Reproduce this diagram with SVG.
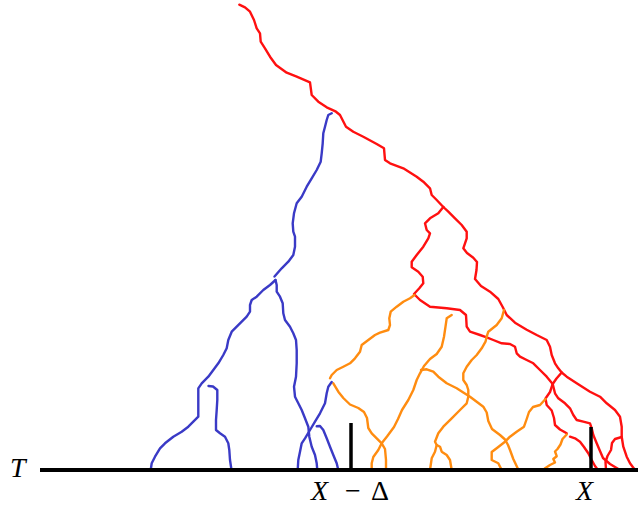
<svg xmlns="http://www.w3.org/2000/svg" width="638" height="508" viewBox="0 0 638 508">
<style>
.l{fill:none;stroke-width:2.4;stroke-linejoin:round;stroke-linecap:round}
.r{stroke:#ff1010}
.b{stroke:#3a3ac6}
.o{stroke:#ff8c10}
.k{stroke:#000;fill:none}
.t{font-family:"Liberation Serif",serif;font-size:28px;fill:#000}
.i{font-style:italic}
</style>
<rect width="638" height="508" fill="#fff"/>
<g id="red-lineages">
<polyline class="l r" points="239.3,4.7 245,7.3 250,11.7 254,20 256.7,28.3 260,33.3 260.7,41.7 265,48.3 270,56.7 276,65 286.7,72.7 296.7,76.7 310,82.3 311.7,95 318.3,101.7 326.7,107.3 336,111.7 340,115 346,126.7 353.3,131.7 363.3,136.7 376.7,144 384,148.3 385,160 390,163.3 403.3,168.3 416.7,176.7 423.3,181.7 430,188.3 431.7,195 436.7,200 443.3,207"/>
<polyline class="l r" points="443.3,207 448.3,211.7 455,218.3 461.7,225 466.7,231.7 466.7,238.3 463.3,248.3 467,253 473.3,257.7 477,262 476.5,270 475,279 481,286 490,291.7 498.3,299 502.7,307 506.7,315 515,322.7 526.7,329.7 536.7,335 546.7,340 550,346.7 551.7,355 555,363.3 558.3,368.3 561.7,372.5 566.7,376.7 576.7,383.3 590,391.7 600,396.7 606.7,403.3 615,410 620,416.7 621.7,426.7 621.7,436.7 623.3,446.7 626.7,456.7 630,463.3 635,470"/>
<polyline class="l r" points="443.3,207 438.3,213.3 430,218.3 425,223.3 426.7,230 430,233.3 428.3,238.3 423.3,246.7 416.7,255 411.7,261.7 411.7,267.3 418.3,271.7 422.7,276.7 423.3,283.3 419.3,288.3 414,294 420,300 430,306.7 446.7,308.3 460,310 466,315 466.7,326.7 470,331.7 480,335 486.7,337.3 493.3,340 501.7,343.3 510,344 515,346.7 516.7,353.3 520,356.7 526.7,360 533.3,363.3 540,370 546.7,376.7 552.7,384"/>
<polyline class="l r" points="561.7,372.5 556.5,378.5 552.7,384"/>
<polyline class="l r" points="552.7,384 550,392 545.5,398.5 546.7,405 551.7,410.5 554,418 555,425 560,429.5 566.7,433.3"/>
<polyline class="l r" points="570,436.7 575,438.3 580,441.7 584,447 588.3,453.3 591.7,460 595,466 598.3,470.5"/>
<polyline class="l r" points="552.7,384 555,393.3 558.3,398.3 565,403.3 570,408.3 573.3,415 576.7,420 583.3,421.7 590,423.3 591.7,428.3 593.3,435 596.7,443.3 600,451 603,458 610,464 620,470"/>
<polyline class="l r" points="621.7,437 615,439 612,443 611,450 607.5,456 605.5,462 606,470"/>
</g>
<g id="orange-lineages">
<polyline class="l o" points="414.5,295 410,298.3 403.3,301.7 396.7,306.7 390.7,311.7 389.3,318.3 390,325 388.3,330 380,332.7 375,335 368.3,340 361.7,345 360,351.7 355,358.3 350,363.3 343.3,366.7 336.7,370 331.7,375 330,378.3"/>
<polyline class="l o" points="333.3,383.3 338.3,391.7 343.3,398 350,404.5 358.3,408 364,412 367,418 368.3,428 371.7,433.3 376.7,438.3 381.7,443.3 385,449 386,460 386,470"/>
<polyline class="l o" points="451.7,315 446.7,318.3 445.5,326.7 444,336.7 441.7,346.7 436.7,354 430,359 424,366 420,373.3 416.7,380 413.3,390 408.3,400 402,410 398,419 394,427 387,436.5 381.7,443.3 378.3,450 373.3,457 371.7,463.3 371.7,470"/>
<polyline class="l o" points="421,370 426.7,369.3 433.3,371.7 438.3,376.7 446.7,383.3 456.7,388.3 463.3,392.5 470,396.7 476.7,401.7 483.3,406.7 486.7,412.5 488.3,421 492,429 500,435 505,439.5 508,445 510,450 513.3,459 518.5,470"/>
<polyline class="l o" points="504,310 501.7,318.3 496.7,325 488.3,331.7 486.7,336.7 485.5,341.7 481.7,348.3 476.7,355 471.7,360 466.7,366.7 463.3,373.3 463.3,380 466.7,385 468.3,390 468.3,396.7 466.7,403.3 460,410 451.7,418.3 443.3,426.7 438.3,433.3 435,441.7 436.7,445 435,451.7 431.7,458.3 430,470"/>
<polyline class="l o" points="436.7,445 440,446.7 441.7,451.7 446.7,455 450,460 451.7,470"/>
<polyline class="l o" points="545.5,399 540,405 533,407 529,412 526.7,419 524,426.7 517,431.5 510,436.7 505,441.7 497,448 491.7,452 491.7,460 498.3,463.3 501.7,470"/>
<polyline class="l o" points="566.7,434.5 562.5,439 560.5,444.5 557.5,449 555,451.5 556.7,456.2 553.3,459 555,462.5 550,465 545.5,468 543.3,470"/>
</g>
<g id="blue-lineages">
<polyline class="l b" points="331.7,113.3 328.3,115 326.7,120 325,126.7 323.3,133.3 322.7,143.3 321.7,153.3 320.7,161.7 316.7,170 311.7,178.3 306.7,186.7 301.7,196.7 296.7,203.3 294,213.3 292.7,223.3 293.3,231.7 295,236.7 295,246.7 293.3,255 288.3,261.7 281.7,268.3 274.5,276.5"/>
<polyline class="l b" points="275.5,280 270,285 263.3,290 256.7,296.7 251.7,300 250,305 250,311.7 246.7,316.7 241.7,321.7 236.7,326.7 231.7,331.7 228.3,340 226.7,348.3 223.3,355 218.3,363.3 213.3,370 208.3,376.7 201.7,383.3 198.3,388.3 198.3,396.7 198.3,406.7 198.3,416.7 193.3,421.7 188.3,426.7 181.7,431.7 173.3,436.7 165,443.3 160,448.3 155,456.7 151.7,463.3 150.7,470"/>
<polyline class="l b" points="208.5,386 213,386.5 217.3,390 217.3,400 216.7,410 216,420 216,430 220,433.3 225,436.7 228.3,443.3 229.3,450 230,460 231.5,470"/>
<polyline class="l b" points="275.5,280 276.7,285 276.7,291.7 280,296.7 282.7,303.3 283.3,313.3 285,320 290,326.7 293.3,333.3 296,340 296.7,350 296.7,363.3 296,376.7 294,386.7 295,396.7 298.3,403.3 301.7,410 305,418.3 308.3,426.7 309.3,436.7 311.7,446.7 315,455 316.7,463.3 317.3,470"/>
<polyline class="l b" points="331.7,382 328.3,386.7 326.7,393.3 325,403.3 320,413.3 315,421.7 310,430 305,438.3 301.7,443.3 300,451.7 298.3,460 297.7,470"/>
<polyline class="l b" points="316.7,426.3 320,426 323.3,430 326.7,438.3 330,446.7 333.3,455 336.7,463.3 338.3,470"/>
</g>
<g id="axis">
<line class="k" x1="40" y1="470" x2="638" y2="470" stroke-width="4"/>
<line class="k" x1="351" y1="423" x2="351" y2="470" stroke-width="3.5"/>
<line class="k" x1="591" y1="427" x2="591" y2="470" stroke-width="3.5"/>
</g>
<g id="labels">
<text class="t i" x="10" y="477">T</text>
<text class="t" y="500"><tspan class="i" x="311">X</tspan><tspan x="345">−</tspan><tspan x="371">Δ</tspan></text>
<text class="t i" x="576" y="500">X</text>
</g>
</svg>
